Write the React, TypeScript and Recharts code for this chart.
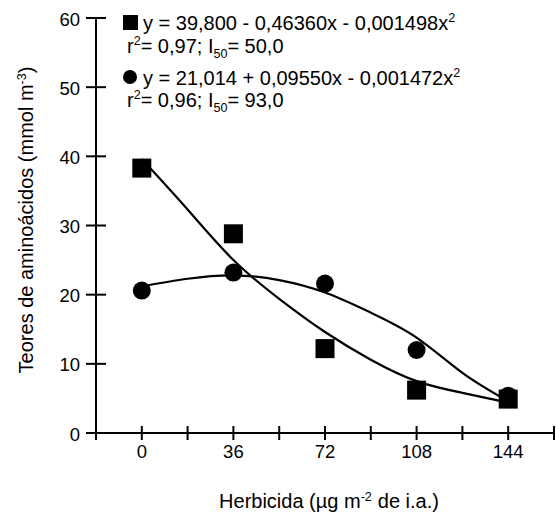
import React from 'react';
import { ComposedChart, Line, Scatter, XAxis, YAxis } from 'recharts';

// observed means
const doses = [0, 36, 72, 108, 144];
const squareValues = [38.3, 28.8, 12.2, 6.2, 4.9];
const circleValues = [20.6, 23.2, 21.6, 12.0, 5.4];

// fitted curves
const fitDoses = [0, 18, 36, 54, 72, 90, 108, 126, 144];
const squareFit = [39.6, 32.3, 25.0, 19.4, 14.6, 10.6, 7.5, 5.8, 4.4];
const circleFit = [21.2, 22.3, 22.8, 22.1, 20.3, 17.4, 13.8, 8.7, 4.6];

const xTicks = [-18, 0, 18, 36, 54, 72, 90, 108, 126, 144, 162];
const xLabeled = [0, 36, 72, 108, 144];
const yTicks = [0, 10, 20, 30, 40, 50, 60];

const FONT = '"Liberation Sans", Arial, sans-serif';

const squarePoints = doses.map((x, i) => ({ x, y: squareValues[i] }));
const circlePoints = doses.map((x, i) => ({ x, y: circleValues[i] }));
const squareCurve = fitDoses.map((x, i) => ({ x, y: squareFit[i] }));
const circleCurve = fitDoses.map((x, i) => ({ x, y: circleFit[i] }));

const XTick = (props: any) => {
  const { x, y, payload } = props;
  return (
    <g>
      <line x1={x} x2={x} y1={y - 7} y2={y + 7} stroke="#000" strokeWidth={2} />
      {xLabeled.includes(payload.value) && (
        <text x={x} y={y + 25} textAnchor="middle" fontSize={18.5} fontFamily={FONT} fill="#000">
          {payload.value}
        </text>
      )}
    </g>
  );
};

const YTick = (props: any) => {
  const { x, y, payload } = props;
  return (
    <g>
      <line x1={x - 10} x2={x + 10} y1={y} y2={y} stroke="#000" strokeWidth={2} />
      <text x={x - 16} y={y + 7.5} textAnchor="end" fontSize={18.5} fontFamily={FONT} fill="#000">
        {payload.value}
      </text>
    </g>
  );
};

const SquareDot = (p: any) => <rect x={p.cx - 9.5} y={p.cy - 9.5} width={19} height={19} fill="#000" />;
const CircleDot = (p: any) => <circle cx={p.cx} cy={p.cy} r={9} fill="#000" />;

export default function App() {
  return (
    <div style={{ position: 'absolute', left: 0, top: 0, width: 556, height: 513, background: '#fff' }}>
      <ComposedChart
        width={556}
        height={513}
        margin={{ top: 18, right: 2, bottom: 20, left: 36 }}
      >
        <XAxis
          dataKey="x"
          type="number"
          domain={[-18, 162]}
          ticks={xTicks}
          interval={0}
          height={60}
          tickSize={0}
          tickMargin={0}
          tickLine={false}
          tick={<XTick />}
          axisLine={{ stroke: '#000', strokeWidth: 2 }}
          allowDataOverflow
        />
        <YAxis
          dataKey="y"
          type="number"
          domain={[0, 60]}
          ticks={yTicks}
          interval={0}
          width={60}
          tickSize={0}
          tickMargin={0}
          tickLine={false}
          tick={<YTick />}
          axisLine={{ stroke: '#000', strokeWidth: 2 }}
        />
        <Line
          data={squareCurve}
          dataKey="y"
          type="natural"
          stroke="#000"
          strokeWidth={2.2}
          dot={false}
          activeDot={false}
          isAnimationActive={false}
        />
        <Line
          data={circleCurve}
          dataKey="y"
          type="natural"
          stroke="#000"
          strokeWidth={2.2}
          dot={false}
          activeDot={false}
          isAnimationActive={false}
        />
        <Scatter data={circlePoints} dataKey="y" shape={CircleDot} isAnimationActive={false} />
        <Scatter data={squarePoints} dataKey="y" shape={SquareDot} isAnimationActive={false} />
      </ComposedChart>
      <svg
        width={556}
        height={513}
        style={{ position: 'absolute', left: 0, top: 0, pointerEvents: 'none' }}
        fontFamily={FONT}
        fill="#000"
      >
        <rect x={123} y={15} width={15} height={15} />
        <text x={143} y={30} fontSize={20}>
          y = 39,800 - 0,46360x - 0,001498x<tspan dy={-8} fontSize={12.5}>2</tspan>
        </text>
        <text x={127} y={53} fontSize={20}>
          r<tspan dy={-8} fontSize={12.5}>2</tspan>
          <tspan dy={8}>= 0,97; I</tspan>
          <tspan dy={5} fontSize={12.5}>50</tspan>
          <tspan dy={-5}>= 50,0</tspan>
        </text>
        <circle cx={130} cy={77} r={7} />
        <text x={143} y={85} fontSize={20}>
          y = 21,014 + 0,09550x - 0,001472x<tspan dy={-8} fontSize={12.5}>2</tspan>
        </text>
        <text x={127} y={107} fontSize={20}>
          r<tspan dy={-8} fontSize={12.5}>2</tspan>
          <tspan dy={8}>= 0,96; I</tspan>
          <tspan dy={5} fontSize={12.5}>50</tspan>
          <tspan dy={-5}>= 93,0</tspan>
        </text>
        <text x={33} y={220} fontSize={20} textAnchor="middle" transform="rotate(-90 33 220)">
          Teores de aminoácidos (mmol m<tspan dy={-7} fontSize={12.5}>-3</tspan>
          <tspan dy={7}>)</tspan>
        </text>
        <text x={329} y={508} fontSize={20} textAnchor="middle">
          Herbicida (µg m<tspan dy={-7} fontSize={12.5}>-2</tspan>
          <tspan dy={7} dx={6}>de i.a.)</tspan>
        </text>
      </svg>
    </div>
  );
}
